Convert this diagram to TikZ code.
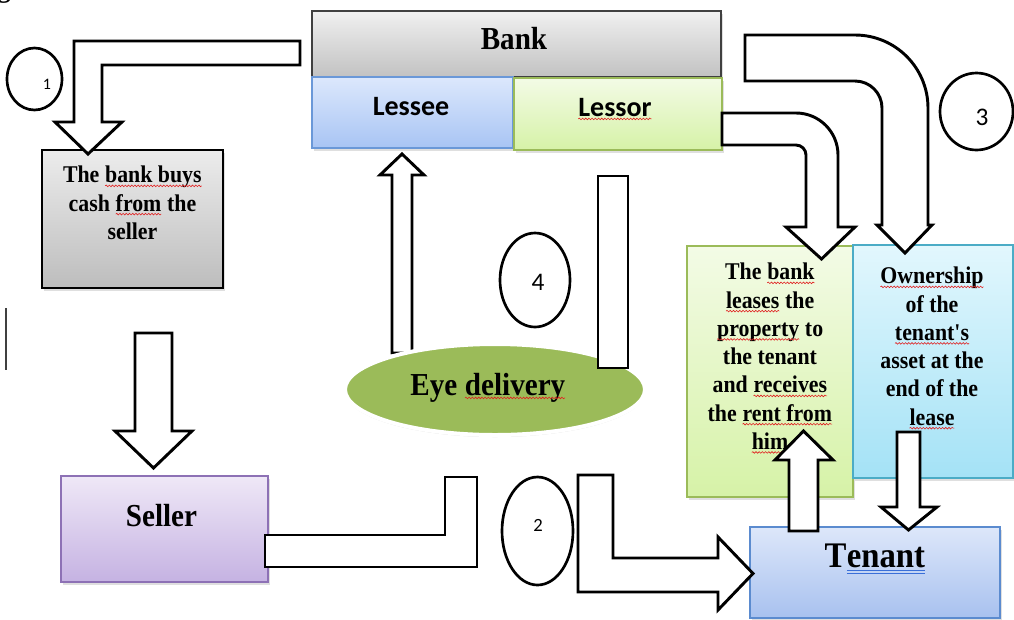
\documentclass[tikz,border=0pt]{standalone}
\usepackage{fontspec}
\setmainfont{Liberation Serif}
\newfontfamily\boxfont[FakeStretch=0.91]{Liberation Serif}
\newfontfamily\calib{Carlito}
\usetikzlibrary{fit,shadows,decorations.pathmorphing,shapes.geometric}
\definecolor{bankT}{HTML}{F0F0F0}\definecolor{bankB}{HTML}{C2C2C2}
\definecolor{lbT}{HTML}{ECECEC}\definecolor{lbB}{HTML}{BDBDBD}
\definecolor{lesseeT}{HTML}{DCE8FC}\definecolor{lesseeB}{HTML}{A8C4F4}\definecolor{lesseeD}{HTML}{6A98D8}
\definecolor{lessorT}{HTML}{F3FBE6}\definecolor{lessorB}{HTML}{D6F2A7}\definecolor{lessorD}{HTML}{9BBB59}
\definecolor{cyanT}{HTML}{E2F7FD}\definecolor{cyanB}{HTML}{A4E2F6}\definecolor{cyanD}{HTML}{4BACC6}
\definecolor{tenT}{HTML}{DDE7FA}\definecolor{tenB}{HTML}{A8C1EF}\definecolor{tenD}{HTML}{5B8BCF}
\definecolor{selT}{HTML}{EFE8F7}\definecolor{selB}{HTML}{C5B2E2}\definecolor{selD}{HTML}{8D71B5}
\definecolor{eyeG}{HTML}{9BBB59}
\definecolor{sqred}{HTML}{E02020}
\definecolor{dblue}{HTML}{3A6FD8}
\newcommand\sq[1]{\tikz[baseline=(sqw.base)]{\node[inner sep=0pt,outer sep=0pt,anchor=base](sqw) at (0,0){#1};\draw[sqred,line width=0.45pt,decorate,decoration={snake,amplitude=0.6pt,segment length=2.4pt}]([yshift=-2.2pt]sqw.base west)--([yshift=-2.2pt]sqw.base east);}}
\newcommand\dbl[1]{\tikz[baseline=(dbw.base)]{\node[inner sep=0pt,outer sep=0pt,anchor=base](dbw) at (0,0){#1};\draw[dblue,line width=0.6pt]([yshift=-2.5pt]dbw.base west)--([yshift=-2.5pt]dbw.base east) ([yshift=-4.6pt]dbw.base west)--([yshift=-4.6pt]dbw.base east);}}
\begin{document}
\begin{tikzpicture}[x=0.75pt,y=-0.75pt,
  barrow/.style={draw=black, fill=white, line width=2.2pt, line join=miter},
  numring/.style={draw=black, line width=2pt, ellipse, inner sep=0pt},
  numtxt/.style={font=\calib\fontsize{#1}{#1}\selectfont, inner sep=0pt},
  boxsh/.style={drop shadow={shadow xshift=1.5pt, shadow yshift=-2pt, opacity=0.25}},
  gbox/.style={fit={#1}, inner sep=0pt, line width=0.8pt},
  btxt/.style={font=\boxfont\bfseries\fontsize{18}{21.2}\selectfont, align=center, inner sep=0pt, anchor=north},
  ttxt/.style={font=\boxfont\bfseries\fontsize{#1}{#1}\selectfont, inner sep=0pt, anchor=base},
  stxt/.style={font=\calib\bfseries\fontsize{21}{21}\selectfont, inner sep=0pt, anchor=base}
]
\useasboundingbox (0,0) rectangle (1014,619);
% fragments
\node[anchor=base west, inner sep=0pt, font=\bfseries\fontsize{20}{22}\selectfont] (gfrag) at (-3,-3) {g};
\coordinate (curA) at (6,308); \coordinate (curB) at (6,370);
\draw[black!75, line width=1.1pt] (curA) -- (curB);
% boxes
\node[gbox={(312,11)(721,77)}, draw=black!75, top color=bankT, bottom color=bankB, boxsh] (bank) {};
\node[gbox={(312,77)(513,148)}, draw=lesseeD, top color=lesseeT, bottom color=lesseeB, boxsh] (lessee) {};
\node[gbox={(514,78)(722,150)}, draw=lessorD, top color=lessorT, bottom color=lessorB, boxsh] (lessor) {};
\node[gbox={(42,150)(223,288)}, draw=black, top color=lbT, bottom color=lbB, boxsh] (buys) {};
\node[gbox={(61,476)(268,582)}, draw=selD, top color=selT, bottom color=selB, boxsh] (seller) {};
\node[gbox={(687,246)(853,497)}, draw=lessorD, top color=lessorT, bottom color=lessorB, boxsh] (leases) {};
\node[gbox={(853,245)(1013,478)}, draw=cyanD, top color=cyanT, bottom color=cyanB, boxsh] (owner) {};
\node[gbox={(750,527)(1000,618)}, draw=tenD, top color=tenT, bottom color=tenB, boxsh] (tenant) {};
% texts
\node[ttxt=24] (banktxt) at (514,49) {Bank};
\node[stxt] (lesseetxt) at (411,115) {Lessee};
\node[stxt] (lessortxt) at (615,116) {\sq{Lessor}};
\node[btxt] (buystxt) at (132.5,166) {The \sq{bank buys}\\cash \sq{from} the\\seller};
\node[ttxt=24] (sellertxt) at (161.5,526) {Seller};
\node[btxt] (leasestxt) at (770,263) {The \sq{bank}\\\sq{leases} the\\\sq{property} to\\the tenant\\and \sq{receives}\\the \sq{rent from}\\\sq{him}};
\node[btxt] (ownertxt) at (932,267) {\sq{Ownership}\\of the\\\sq{tenant's}\\asset at the\\end of the\\\sq{lease}};
\node[ttxt=27] (tenanttxt) at (875,567) {T\dbl{enant}};
% arrow 1
\draw[barrow] (300,41) -- (74,41) -- (74,122) -- (55,122) -- (88,154) -- (122,122) -- (102,122) -- (102,65) -- (300,65) -- cycle;
% arrow buys -> seller
\draw[barrow] (135,333) -- (172,333) -- (172,431) -- (192,431) -- (153.5,468) -- (115,431) -- (135,431) -- cycle;
% arrow 2
\draw[barrow] (265,535) -- (445,535) -- (445,477) -- (477,477) -- (477,567) -- (265,567) -- cycle;
\draw[barrow] (578,475) -- (613,475) -- (613,558) -- (718,558) -- (718,537) -- (753,573.5) -- (718,610) -- (718,592) -- (578,592) -- cycle;
% arrows 3
\draw[barrow] (745,35) -- (855,35) arc[start angle=270, end angle=360, radius=73] -- (928,225) -- (932,225) -- (905,253) -- (877,225) -- (882,225) -- (882,108) arc[start angle=0, end angle=-90, radius=27] -- (745,81) -- cycle;
\draw[barrow] (722,113) -- (796,113) arc[start angle=270, end angle=360, radius=42] -- (838,227) -- (855,227) -- (821.5,259) -- (786,227) -- (806,227) -- (806,155) arc[start angle=0, end angle=-90, radius=10] -- (722,145) -- cycle;
% tenant arrows
\draw[barrow] (789,531) -- (789,460) -- (775,460) -- (803.5,431) -- (833,460) -- (818,460) -- (818,531) -- cycle;
\draw[barrow] (897,432) -- (920,432) -- (920,507) -- (937,507) -- (908.5,530) -- (881,507) -- (897,507) -- cycle;
% arrow 4
\draw[barrow] (392,353) -- (392,175) -- (380,175) -- (402,154) -- (424,175) -- (412,175) -- (412,353) -- cycle;
\node[ellipse, minimum width=300*0.75pt, minimum height=91*0.75pt, fill=eyeG, draw=white, line width=3pt, inner sep=0pt,
  drop shadow={shadow xshift=0pt, shadow yshift=-1.5pt, opacity=0.3}] (eye) at (495,389.5) {};
\node[ttxt=24] (eyetxt) at (488,395) {Eye \sq{delivery}};
\draw[barrow] (598,176) rectangle (628,368);
% number rings
\node[numring, minimum width=55*0.75pt, minimum height=62*0.75pt] (r1) at (34.5,79) {};
\node[numtxt=12] (n1) at (47,84) {1};
\node[numring, minimum width=71*0.75pt, minimum height=108*0.75pt] (r2) at (537.5,531) {};
\node[numtxt=14] (n2) at (538,525) {2};
\node[numring, minimum width=73*0.75pt, minimum height=77*0.75pt] (r3) at (976.5,111.5) {};
\node[numtxt=19] (n3) at (982,117) {3};
\node[numring, minimum width=70*0.75pt, minimum height=94*0.75pt] (r4) at (535,280) {};
\node[numtxt=19] (n4) at (538,282) {4};
\end{tikzpicture}
\end{document}
